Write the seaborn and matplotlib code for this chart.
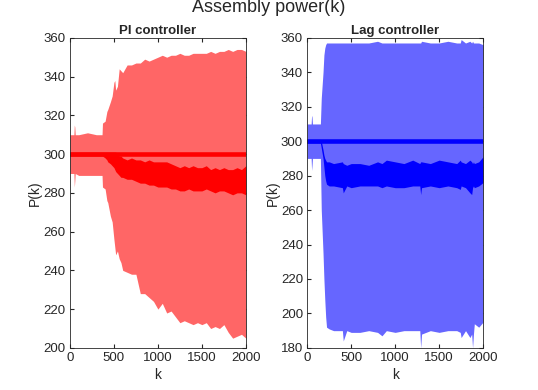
import numpy as np
import matplotlib
matplotlib.use("Agg")
import matplotlib.pyplot as plt
import seaborn as sns
import pandas as pd

# envelope of the noisy signals
# PI controller
pi_k = [0, 45, 50, 55, 60, 100, 200, 300, 365, 370, 400, 420, 430, 460, 480, 500, 510, 520,
        540, 560, 580, 600, 650, 700, 750, 800, 850, 900, 950, 1000, 1050, 1100, 1150, 1200,
        1250, 1300, 1350, 1400, 1450, 1500, 1550, 1600, 1650, 1700, 1750, 1800, 1850, 1900,
        1950, 2000]
pi_hi = [310, 310, 315, 314, 310, 310, 311, 310, 310, 316, 317, 322, 323, 327, 330, 337, 338, 333,
         335, 344, 343, 342, 346, 346, 347, 347, 349, 348, 349, 350, 351, 350, 351, 351,
         352, 351, 351, 352, 352, 352, 352, 353, 352, 353, 353, 354, 353, 354, 354, 353]
pi_lo = [290, 290, 283, 286, 290, 289, 289, 289, 289, 283, 282, 276, 275, 268, 265, 256, 252, 248,
         250, 246, 244, 240, 239, 238, 238, 228, 228, 226, 224, 220, 223, 218, 219, 216,
         213, 214, 213, 212, 213, 212, 213, 210, 211, 210, 212, 208, 205, 206, 207, 205]
pi_mid_hi = [301, 301, 301, 301, 301, 301, 301, 301, 301, 301, 301, 301, 301, 301, 301, 301, 301, 301,
             300, 299, 299, 298, 297, 298, 297, 297, 296, 297, 296, 296, 296, 296, 295, 294,
             293, 294, 293, 294, 293, 293, 294, 292, 293, 292, 293, 292, 292, 293, 292, 294]
pi_mid_lo = [299, 299, 299, 299, 299, 299, 299, 299, 299, 299, 298, 297, 296, 295, 294, 293, 292, 291,
             290, 289, 288, 288, 287, 287, 286, 285, 285, 284, 284, 283, 283, 283, 282, 282,
             281, 281, 282, 281, 281, 281, 282, 281, 280, 281, 281, 280, 279, 280, 280, 279]

# Lag controller
lag_k = [0, 45, 50, 55, 60, 100, 150, 160, 180, 190, 200, 210, 220, 250, 300, 400, 410, 450, 500,
         600, 700, 800, 850, 900, 1000, 1100, 1200, 1280, 1290, 1300, 1400, 1500, 1600, 1700,
         1740, 1750, 1800, 1850, 1870, 1880, 1890, 1900, 1950, 2000]
lag_hi = [310, 310, 315, 314, 310, 310, 310, 325, 340, 350, 354, 356, 357, 357, 357, 357, 357, 357, 357,
          357, 357, 358, 357, 357, 357, 357, 357, 357, 357, 358, 357, 357, 358, 357,
          357, 359, 357, 358, 357, 358, 357, 357, 357, 356]
lag_lo = [290, 290, 283, 286, 290, 290, 290, 260, 235, 220, 208, 198, 192, 191, 190, 190, 184, 190, 189,
          189, 190, 189, 187, 190, 189, 190, 190, 190, 180, 188, 190, 189, 190, 190,
          189, 186, 190, 186, 188, 180, 188, 194, 192, 195]
lag_mid_hi = [301, 301, 301, 301, 301, 301, 301, 300, 295, 292, 290, 289, 288, 288, 287, 288, 287, 286, 287,
              287, 286, 288, 287, 289, 288, 287, 289, 287, 288, 288, 287, 289, 288, 287,
              289, 288, 287, 289, 288, 287, 288, 287, 288, 291]
lag_mid_lo = [299, 299, 299, 299, 299, 299, 299, 296, 290, 285, 280, 277, 275, 274, 274, 273, 270, 274, 273,
              274, 274, 274, 273, 274, 273, 273, 274, 274, 269, 273, 274, 273, 274, 273,
              272, 274, 273, 270, 269, 273, 274, 273, 274, 276]

const_k = [0, 2000]
const_p = [300, 300]

sns.set_style("ticks")
plt.rcParams['font.family'] = ['Liberation Sans', 'DejaVu Sans']

fig = plt.figure(figsize=(5.38, 3.9), dpi=100)
ax1 = fig.add_axes([0.130, 0.108, 0.327, 0.795])
ax2 = fig.add_axes([0.571, 0.108, 0.327, 0.795])


def draw(ax, k, hi, lo, mhi, mlo, light, dark, title, ylim, yticks):
    ax.fill_between(k, lo, hi, color=light, linewidth=0)
    ax.fill_between(k, mlo, mhi, color=dark, linewidth=0)
    df = pd.DataFrame({"k": const_k, "P": const_p})
    sns.lineplot(data=df, x="k", y="P", ax=ax, color=dark, linewidth=3.3)
    ax.set_xlim(0, 2000)
    ax.set_ylim(*ylim)
    ax.set_xticks([0, 500, 1000, 1500, 2000])
    ax.set_yticks(yticks)
    ax.set_xlabel("k", fontsize=10, color="#262626", labelpad=3)
    ax.set_ylabel("P(k)", fontsize=10, color="#262626", labelpad=1)
    ax.set_title(title, fontsize=9.5, fontweight="bold", pad=3)
    ax.tick_params(direction="in", length=3, labelsize=9.5, colors="#262626",
                   top=True, right=True, pad=3)
    for s in ax.spines.values():
        s.set_visible(True)
        s.set_color("#262626")
        s.set_linewidth(0.6)


draw(ax1, pi_k, pi_hi, pi_lo, pi_mid_hi, pi_mid_lo, "#ff6666", "#ff0000",
     "PI controller", (200, 360), range(200, 361, 20))
draw(ax2, lag_k, lag_hi, lag_lo, lag_mid_hi, lag_mid_lo, "#6666ff", "#0000ff",
     "Lag controller", (180, 360), range(180, 361, 20))

fig.text(0.5, 0.969, "Assembly power(k)", ha="center", va="baseline", fontsize=13)

fig.savefig("out.png", dpi=100)
